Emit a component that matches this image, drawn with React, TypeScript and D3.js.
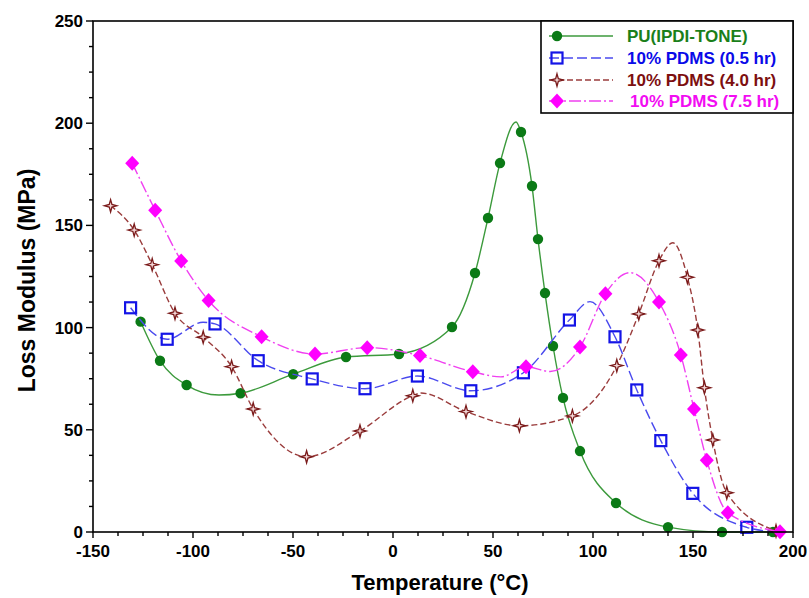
import * as d3 from 'd3'

const W = 809
const H = 598
const margin = { left: 93, right: 16, top: 21, bottom: 66 }

// PU(IPDI-TONE) - marker points
const puTemp = [-126.2, -116.5, -103.2, -76.2, -49.9, -23.5, 3, 29.5, 41, 47.5, 53.5, 64, 69.5, 72.5, 76, 80, 85, 93.5, 111.5, 137.5, 164.5, 190]
const puLoss = [102.9, 83.8, 71.9, 67.9, 77.2, 85.6, 87.1, 100.3, 126.7, 153.6, 180.5, 195.7, 169.3, 143.3, 116.9, 91, 65.6, 39.6, 14.2, 2.4, 0, 0]
// extra points (peaks / troughs)
const puLineTemp = [-87, 61.5]
const puLineLoss = [67, 200.6]

// 10% PDMS (0.5 hr)
const p05Temp = [-131.2, -112.9, -89, -67.4, -40.4, -14, 12.2, 38.9, 65.2, 88.2, 111, 121.9, 133.9, 149.9, 176.9]
const p05Loss = [109.7, 94.3, 101.8, 83.8, 74.9, 70.1, 76.3, 69.1, 77.9, 103.7, 95.5, 69.5, 44.7, 18.9, 2.3]
const p05LineTemp = [-95, 98.5, 190]
const p05LineLoss = [102.6, 112.7, 0.2]

// 10% PDMS (4.0 hr)
const p40Temp = [-141.2, -129.4, -120.4, -109, -94.9, -80.7, -69.9, -43.2, -16.5, 9.9, 36.5, 63.2, 89.7, 111.9, 122.9, 133, 147.2, 152.4, 155.7, 159.9, 166.9, 191.5]
const p40Loss = [159.6, 147.7, 130.8, 107, 95.3, 80.9, 60.2, 36.8, 49.4, 66.7, 58.9, 52, 56.8, 81.4, 106.7, 132.7, 124.6, 98.8, 70.6, 45, 19.2, 0.5]
const p40LineTemp = [14, 139.9]
const p40LineLoss = [68, 141.5]

// 10% PDMS (7.5 hr)
const p75Temp = [-130.4, -118.9, -105.9, -92.2, -65.7, -39, -12.9, 13.5, 39.9, 66.5, 93.5, 106.2, 133, 143.9, 150.5, 156.9, 167.4, 193.5]
const p75Loss = [180.4, 157.4, 132.6, 113.2, 95.5, 87.1, 90.2, 86.3, 78.4, 80.9, 90.5, 116.6, 112.5, 86.6, 60.2, 35.1, 9.4, 0.1]
const p75LineTemp = [54, 78.6, 118.5]
const p75LineLoss = [75.9, 78.5, 126.9]

const seriesNames = ['PU(IPDI-TONE)', '10% PDMS (0.5 hr)', '10% PDMS (4.0 hr)', '10% PDMS (7.5 hr)']

const xTicks = d3.range(-150, 201, 50)
const yTicks = d3.range(0, 251, 50)

type Marker = 'circle' | 'square' | 'star' | 'diamond'

const series = [
  { name: seriesNames[0], t: puTemp, v: puLoss, lt: puLineTemp, lv: puLineLoss, line: '#3c9a3c', mark: '#0b7a16', text: '#1a7f1a', dash: 'none', marker: 'circle' as Marker },
  { name: seriesNames[1], t: p05Temp, v: p05Loss, lt: p05LineTemp, lv: p05LineLoss, line: '#4a4aee', mark: '#1414e6', text: '#0a0ae8', dash: '10,4', marker: 'square' as Marker },
  { name: seriesNames[2], t: p40Temp, v: p40Loss, lt: p40LineTemp, lv: p40LineLoss, line: '#9a3c3c', mark: '#7a1a1a', text: '#7d0f0f', dash: '6,3', marker: 'star' as Marker },
  { name: seriesNames[3], t: p75Temp, v: p75Loss, lt: p75LineTemp, lv: p75LineLoss, line: '#f040f0', mark: '#ff00ff', text: '#f20cf2', dash: '12,3,2,3', marker: 'diamond' as Marker },
]

// 4-pointed star for the 4.0 hr series
const starPath = d3.lineRadial<number>()
  .angle((_, i) => (i * Math.PI) / 4)
  .radius((_, i) => (i % 2 === 0 ? 6.2 : 1.9))
  .curve(d3.curveLinearClosed)(d3.range(8))

const MarkerShape = ({ type, x, y, color }: { type: Marker, x: number, y: number, color: string }) => {
  if (type === 'circle') return <circle cx={x} cy={y} r={5.2} fill={color} />
  if (type === 'square') return <rect x={x - 5.5} y={y - 5.5} width={11} height={11} fill="none" stroke={color} strokeWidth={2.2} />
  if (type === 'diamond') return <path d={`M${x},${y - 7.5}L${x + 7},${y}L${x},${y + 7.5}L${x - 7},${y}Z`} fill={color} />
  return <path d={starPath || ''} transform={`translate(${x},${y})`} fill="#f3d6d6" stroke={color} strokeWidth={1.3} />
}

export default function App() {
  const x = d3.scaleLinear().domain([-150, 200]).range([margin.left, W - margin.right])
  const y = d3.scaleLinear().domain([0, 250]).range([H - margin.bottom, margin.top])
  const minorX = d3.range(-150, 200.1, 12.5)
  const minorY = d3.range(0, 250.1, 12.5)

  const line = d3.line<[number, number]>()
    .x(d => x(d[0]))
    .y(d => y(d[1]))
    .curve(d3.curveMonotoneX)

  const font = '"Liberation Sans", Arial, sans-serif'
  const x0 = x(-150), x1 = x(200), y0 = y(0), y1 = y(250)

  const legendY = [36, 58, 80, 101]

  return (
    <svg width={W} height={H} style={{ position: 'absolute', left: 0, top: 0, background: '#fff' }} fontFamily={font}>
      {series.map(s => {
        const pts: [number, number][] = s.t.map((t, i) => [t, s.v[i]] as [number, number])
          .concat(s.lt.map((t, i) => [t, s.lv[i]] as [number, number]))
          .sort((a, b) => a[0] - b[0])
        return (
          <g key={s.name}>
            <path d={line(pts) || ''} fill="none" stroke={s.line} strokeWidth={1.4} strokeDasharray={s.dash} />
            {s.t.map((t, i) => <MarkerShape key={i} type={s.marker} x={x(t)} y={y(s.v[i])} color={s.mark} />)}
          </g>
        )
      })}

      {/* frame */}
      <rect x={x0} y={y1} width={x1 - x0} height={y0 - y1} fill="none" stroke="#000" strokeWidth={1.6} />

      {/* x axis ticks */}
      {minorX.map(t => <line key={'mx' + t} x1={x(t)} x2={x(t)} y1={y0} y2={y0 + (t % 50 === 0 ? 6 : 4)} stroke="#000" strokeWidth={1.4} />)}
      {xTicks.map(t => (
        <text key={'tx' + t} x={x(t)} y={557} textAnchor="middle" fontSize={17} fontWeight="bold">{t}</text>
      ))}
      {/* y axis ticks */}
      {minorY.map(t => <line key={'my' + t} x1={x0 - (t % 50 === 0 ? 7 : 4)} x2={x0} y1={y(t)} y2={y(t)} stroke="#000" strokeWidth={1.4} />)}
      {yTicks.map(t => (
        <text key={'ty' + t} x={x0 - 10} y={y(t) + 6} textAnchor="end" fontSize={17} fontWeight="bold">{t}</text>
      ))}

      <text x={(x0 + x1) / 2 - 3} y={590} textAnchor="middle" fontSize={22} fontWeight="bold">Temperature (°C)</text>
      <text transform={`translate(35,${(y0 + y1) / 2 + 4}) rotate(-90)`} textAnchor="middle" fontSize={23} fontWeight="bold">Loss Modulus (MPa)</text>

      {/* legend */}
      <rect x={541} y={y1} width={x1 - 541} height={92} fill="#fff" stroke="#000" strokeWidth={1.6} />
      {series.map((s, i) => (
        <g key={'lg' + s.name}>
          <line x1={549} x2={613} y1={legendY[i]} y2={legendY[i]} stroke={s.line} strokeWidth={1.4} strokeDasharray={s.dash} />
          <MarkerShape type={s.marker} x={557} y={legendY[i]} color={s.mark} />
          <text x={627 + (i === 3 ? 3 : 0)} y={legendY[i] + 6} fontSize={17} fontWeight="bold" fill={s.text}>{s.name}</text>
        </g>
      ))}
    </svg>
  )
}
